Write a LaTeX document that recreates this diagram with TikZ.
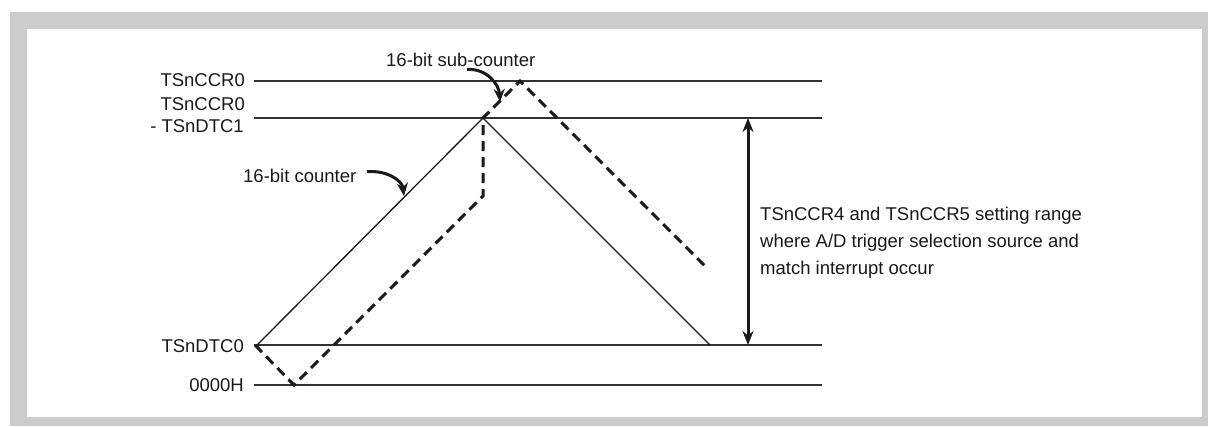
\documentclass[tikz,border=0pt]{standalone}
\usepackage{fontspec}
\setmainfont{Liberation Sans}
\usetikzlibrary{arrows.meta}
\definecolor{framegray}{HTML}{CCCCCC}
\definecolor{ink}{HTML}{1A1A1A}
\begin{document}
\begin{tikzpicture}[x=1pt,y=-1pt,
  lbl/.style={inner sep=0pt, text=ink, font=\fontsize{18.5}{22}\selectfont},
  levelline/.style={line width=1.3pt, draw=ink!90},
  cntline/.style={line width=1.3pt, draw=ink, line join=miter},
  subline/.style={line width=3pt, draw=ink, dash pattern=on 10pt off 6pt},
  callout/.style={line width=3pt, draw=ink, -{Stealth[length=13pt,width=11pt]}},
  rangearrow/.style={line width=3pt, draw=ink, {Stealth[length=14pt,width=11pt]}-{Stealth[length=14pt,width=11pt]}}]
\useasboundingbox (0,0) rectangle (1208,426);
\fill[framegray] (10,11.7) rectangle (1208,426);
\fill[white] (26.7,29.3) rectangle (1201.7,416.7);

% level lines
\coordinate (l1a) at (254,81);  \coordinate (l1b) at (822,81);
\coordinate (l2a) at (254,118); \coordinate (l2b) at (822,118);
\coordinate (l3a) at (254,345); \coordinate (l3b) at (822,345);
\coordinate (l4a) at (254,385); \coordinate (l4b) at (822,385);
\draw[levelline] (l1a) -- (l1b);
\draw[levelline] (l2a) -- (l2b);
\draw[levelline] (l3a) -- (l3b);
\draw[levelline] (l4a) -- (l4b);

% labels
\node[lbl, anchor=base east] (tccr) at (245,86.7) {TSnCCR0};
\node[lbl, anchor=base east] (tccrb) at (245,110.7) {TSnCCR0};
\node[lbl, anchor=base east] (tdtc1) at (244,132.7) {- TSnDTC1};
\node[lbl, anchor=base east] (tdtc0) at (244,352.3) {TSnDTC0};
\node[lbl, anchor=base east] (zero) at (244,391.7) {0000H};

% 16-bit counter (solid)
\coordinate (c0) at (257,345);
\coordinate (c1) at (483,118);
\coordinate (c2) at (710,345);
\draw[cntline] (c0) -- (c1) -- (c2);

% 16-bit sub-counter (dashed)
\coordinate (s0) at (255,345);
\coordinate (s1) at (294,385);
\coordinate (s2) at (483,196);
\coordinate (s3) at (483,118);
\coordinate (s4) at (520,81);
\coordinate (s5) at (708,269);
\draw[subline] (s0) -- (s1) -- (s2) -- (s3) -- (s4) -- (s5);

% callouts
\node[lbl, anchor=base west] (sublbl) at (386,66) {16-bit sub-counter};
\coordinate (sa) at (467,69.5);
\coordinate (sb) at (500,102);
\draw[callout] (sa) .. controls (486,68) and (499,84) .. (sb);

\node[lbl, anchor=base west] (cntlbl) at (243,182.7) {16-bit counter};
\coordinate (ca) at (367,171.7);
\coordinate (cb) at (404,196);
\draw[callout] (ca) .. controls (386,170) and (402,180) .. (cb);

% range arrow
\coordinate (ra) at (748,118);
\coordinate (rb) at (748,345);
\draw[rangearrow] (ra) -- (rb);
\node[lbl, anchor=base west] (r1) at (760,220.5) {TSnCCR4 and TSnCCR5 setting range};
\node[lbl, anchor=base west] (r2) at (760,247) {where A/D trigger selection source and};
\node[lbl, anchor=base west] (r3) at (760,274) {match interrupt occur};
\end{tikzpicture}
\end{document}
